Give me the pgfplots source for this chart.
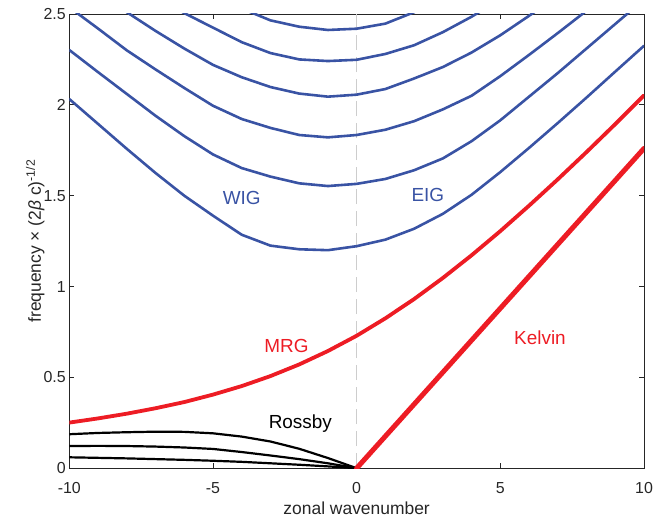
\documentclass[border=0pt]{standalone}
\usepackage{fontspec}
\setmainfont{Liberation Sans}
\usepackage{pgfplots}
\pgfplotsset{compat=1.18}
\definecolor{wblue}{RGB}{57,83,164}
\definecolor{wred}{RGB}{237,28,36}
\definecolor{axgray}{RGB}{38,38,38}
\definecolor{dgray}{RGB}{205,205,205}
\begin{document}
\begin{tikzpicture}
\begin{axis}[
  scale only axis, width=574.7bp, height=454.2bp,
  xmin=-10, xmax=10, ymin=0, ymax=2.5,
  xtick={-10,-5,0,5,10}, ytick={0,0.5,1,1.5,2,2.5},
  yticklabels={0,0.5,1,1.5,2,2.5},
  tick align=inside, major tick length=5bp,
  axis line style={axgray, line width=0.8bp},
  tick style={axgray, line width=0.8bp},
  /pgf/number format/assume math mode=true,
  ticklabel style={font=\fontsize{16}{16}\selectfont, text=axgray},
  xticklabel style={anchor=base, yshift=-25bp},
  xlabel={zonal wavenumber},
  ylabel={frequency × (2\textit{β} c)\textsuperscript{-1/2}},
  label style={font=\fontsize{17.5}{17.5}\selectfont, text=axgray},
  xlabel style={at={(axis description cs:0.5,0)}, anchor=base, yshift=-45.8bp},
  ylabel style={at={(axis description cs:0,0.5)}, anchor=base, rotate=0, yshift=28.3bp},
  clip=true,
  every axis plot/.append style={line join=round, line cap=round},
]
% dashed zero line
\addplot[dgray, line width=1.5bp, dash pattern=on 15bp off 7bp, line cap=butt] coordinates {(0,0) (0,2.5)};

% gravity waves
\addplot[wblue, line width=2.6bp] coordinates {
(-10,2.032) (-9,1.895) (-8,1.758) (-7,1.625) (-6,1.500) (-5,1.390) (-4,1.285) (-3,1.225) (-2,1.205) (-1,1.200)
(0,1.222) (1,1.258) (2,1.318) (3,1.400) (4,1.505) (5,1.630) (6,1.763) (7,1.900) (8,2.040) (9,2.183) (10,2.325)};
\addplot[wblue, line width=2.6bp] coordinates {
(-10,2.302) (-9,2.180) (-8,2.060) (-7,1.940) (-6,1.828) (-5,1.727) (-4,1.652) (-3,1.605) (-2,1.568) (-1,1.553)
(0,1.565) (1,1.592) (2,1.640) (3,1.705) (4,1.800) (5,1.915) (6,2.045) (7,2.175) (8,2.310) (9,2.445) (10,2.580)};
\addplot[wblue, line width=2.6bp] coordinates {
(-10,2.537) (-9,2.420) (-8,2.300) (-7,2.195) (-6,2.093) (-5,1.995) (-4,1.922) (-3,1.873) (-2,1.834) (-1,1.821)
(0,1.834) (1,1.863) (2,1.910) (3,1.975) (4,2.050) (5,2.158) (6,2.275) (7,2.395) (8,2.518) (9,2.640) (10,2.770)};
\addplot[wblue, line width=2.6bp] coordinates {
(-9,2.630) (-8,2.510) (-7,2.407) (-6,2.310) (-5,2.220) (-4,2.152) (-3,2.098) (-2,2.062) (-1,2.045)
(0,2.056) (1,2.087) (2,2.145) (3,2.208) (4,2.288) (5,2.383) (6,2.490) (7,2.600) (8,2.720)};
\addplot[wblue, line width=2.6bp] coordinates {
(-7,2.590) (-6,2.505) (-5,2.425) (-4,2.345) (-3,2.285) (-2,2.250) (-1,2.241)
(0,2.248) (1,2.280) (2,2.328) (3,2.400) (4,2.485) (5,2.580)};
\addplot[wblue, line width=2.6bp] coordinates {
(-5,2.610) (-4,2.530) (-3,2.465) (-2,2.430) (-1,2.412) (0,2.419) (1,2.447) (2,2.510) (3,2.590)};

% Rossby waves
\addplot[black, line width=2.2bp] coordinates {
(-10,0.187) (-9,0.194) (-8,0.198) (-7,0.201) (-6,0.200) (-5,0.192) (-4,0.174) (-3,0.147) (-2,0.107) (-1,0.056) (0,0)};
\addplot[black, line width=2.2bp] coordinates {
(-10,0.122) (-9,0.123) (-8,0.122) (-7,0.119) (-6,0.114) (-5,0.106) (-4,0.089) (-3,0.070) (-2,0.050) (-1,0.027) (0,0)};
\addplot[black, line width=2.2bp] coordinates {
(-10,0.060) (-9,0.057) (-8,0.054) (-7,0.050) (-6,0.046) (-5,0.041) (-4,0.035) (-3,0.027) (-2,0.019) (-1,0.010) (0,0)};

% MRG
\addplot[wred, line width=3.8bp] coordinates {
(-10,0.251) (-9,0.274) (-8,0.300) (-7,0.330) (-6,0.364) (-5,0.405) (-4,0.452) (-3,0.507) (-2,0.571) (-1,0.645)
(0,0.729) (1,0.825) (2,0.931) (3,1.047) (4,1.172) (5,1.305) (6,1.445) (7,1.590) (8,1.740) (9,1.894) (10,2.052)};
% Kelvin
\addplot[wred, line width=5bp] coordinates {
(0,0) (1,0.176) (2,0.352) (3,0.528) (4,0.704) (5,0.880) (6,1.056) (7,1.232) (8,1.408) (9,1.584) (10,1.760)};

\node[wblue, font=\fontsize{19}{19}\selectfont] at (axis cs:-4.0,1.486) {WIG};
\node[wblue, font=\fontsize{19}{19}\selectfont] at (axis cs:2.48,1.506) {EIG};
\node[wred, font=\fontsize{19}{19}\selectfont] at (axis cs:-2.44,0.673) {MRG};
\node[wred, font=\fontsize{19}{19}\selectfont] at (axis cs:6.38,0.72) {Kelvin};
\node[black, font=\fontsize{19}{19}\selectfont] at (axis cs:-1.96,0.243) {Rossby};
\end{axis}
\pgfresetboundingbox
\path[use as bounding box] ([xshift=-69.3bp,yshift=-51.8bp]current axis.south west) rectangle ([xshift=9bp,yshift=14bp]current axis.north east);
\end{tikzpicture}
\end{document}
